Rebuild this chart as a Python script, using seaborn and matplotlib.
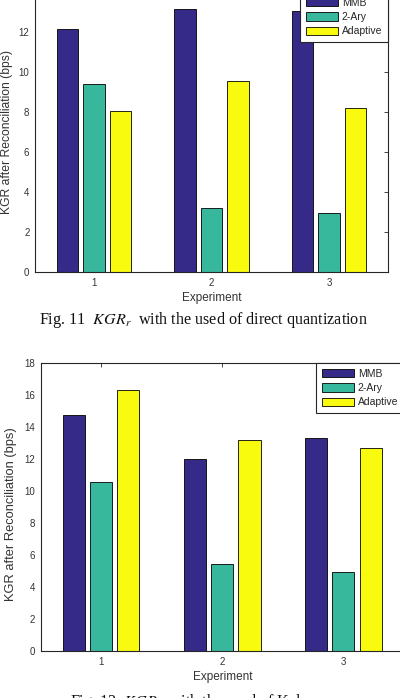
import numpy as np
import pandas as pd
import matplotlib
matplotlib.use("Agg")
import matplotlib.pyplot as plt
import seaborn as sns

# ---- data ----
experiments = ["1", "2", "3"]
methods = ["MMB", "2-Ary", "Adaptive"]
direct_mmb = [12.15, 13.13, 13.03]
direct_2ary = [9.42, 3.22, 2.93]
direct_adaptive = [8.07, 9.53, 8.18]
kalman_mmb = [14.73, 11.98, 13.29]
kalman_2ary = [10.54, 5.42, 4.94]
kalman_adaptive = [16.31, 13.19, 12.71]
colors = ["#352A87", "#37B89D", "#F9FB0E"]
y_label = "KGR after Reconciliation (bps)"
x_label = "Experiment"
caption1 = "Fig. 11  $KGR_r$  with the used of direct quantization"
caption2 = "Fig. 12  $KGR_r$  with the used of Kalman"


def make_df(mmb, ary, ada):
    rows = []
    for m, vals in zip(methods, [mmb, ary, ada]):
        for e, v in zip(experiments, vals):
            rows.append({"Experiment": e, "Method": m, "KGR": v})
    return pd.DataFrame(rows)


sns.set_theme(style="white")
plt.rcParams["font.family"] = ["Liberation Sans", "DejaVu Sans"]
plt.rcParams["mathtext.fontset"] = "stix"

W, H = 400, 698
fig = plt.figure(figsize=(W / 100, H / 100), dpi=100)


def px_axes(left, right, top, bottom):
    return fig.add_axes([left / W, 1 - bottom / H, (right - left) / W, (bottom - top) / H])


def draw(ax, df, ymax, ylab_size, ylab_x, ylab_y):
    sns.barplot(data=df, x="Experiment", y="KGR", hue="Method", hue_order=methods,
                order=experiments, palette=colors, saturation=1, width=0.675, gap=0.19,
                edgecolor="black", linewidth=0.6, ax=ax, errorbar=None)
    ax.set_xlim(-0.5, 2.5)
    ax.set_ylim(0, ymax)
    ax.set_yticks(np.arange(0, ymax + 1, 2))
    ax.tick_params(direction="in", top=True, right=True, length=3, width=0.6,
                   labelsize=7, labelcolor="#333333", color="#262626", pad=4)
    for s in ax.spines.values():
        s.set_visible(True)
        s.set_color("#262626")
        s.set_linewidth(0.8)
    ax.set_xlabel(x_label, fontsize=8.5, color="#333333", labelpad=3)
    ax.set_ylabel(y_label, fontsize=ylab_size, color="#333333")
    ax.yaxis.set_label_coords(ylab_x, ylab_y)
    handles, labels = ax.get_legend_handles_labels()
    ax.legend(handles, labels, loc="upper right", frameon=True, fancybox=False,
              edgecolor="#262626", framealpha=1, borderaxespad=0, fontsize=7.5,
              handlelength=3.1, handleheight=0.85, labelspacing=0.42,
              handletextpad=0.35, borderpad=0.55)
    ax.get_legend().get_frame().set_linewidth(0.8)


ax1 = px_axes(35, 388, -8, 272)
draw(ax1, make_df(direct_mmb, direct_2ary, direct_adaptive), 14, 8.7,
     (13.5 - 35) / 353, 0.5)
ax2 = px_axes(40.5, 404, 363, 651)
draw(ax2, make_df(kalman_mmb, kalman_2ary, kalman_adaptive), 18, 9.3,
     (17.5 - 40.5) / 363.5, (651 - 514) / 288)

fig.text(203 / W, 1 - 320 / H, caption1, ha="center", va="center",
         family="Liberation Serif", fontsize=11.6, color="#111111")
fig.text(200 / W, 1 - 702.5 / H, caption2, ha="center", va="center",
         family="Liberation Serif", fontsize=11.6, color="#111111")

fig.savefig("out.png", dpi=100)
